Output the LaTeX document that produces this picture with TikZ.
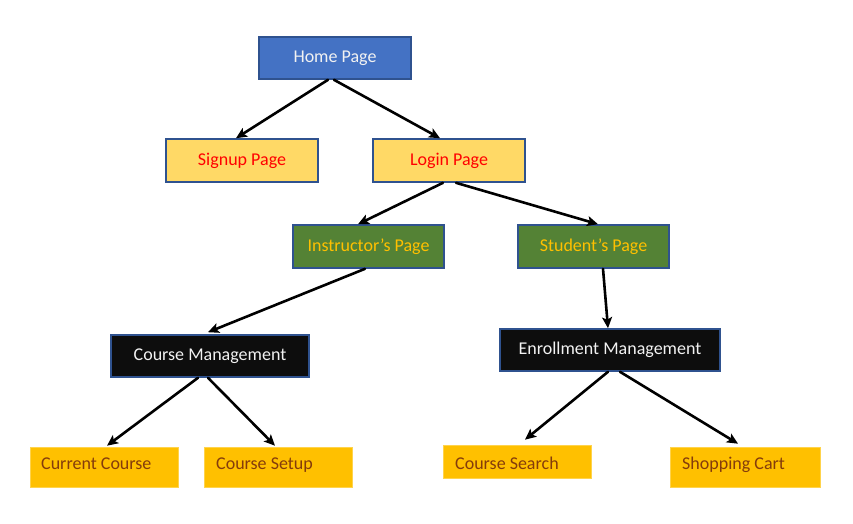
\documentclass[tikz,border=0pt]{standalone}
\usepackage{fontspec}
\setmainfont{Carlito}
\usetikzlibrary{arrows.meta}
\definecolor{bluefill}{HTML}{4472C4}
\definecolor{blueedge}{HTML}{2F528F}
\definecolor{lightyellow}{HTML}{FFD966}
\definecolor{greenfill}{HTML}{548235}
\definecolor{gold}{HTML}{FFC000}
\definecolor{darkfill}{HTML}{0D0D0D}
\definecolor{brown}{HTML}{843C0C}
\definecolor{offwhite}{HTML}{F2F2F2}
\tikzset{
  box/.style={draw=blueedge, line width=1.6pt, minimum height=43pt, inner sep=0pt,
    font=\fontsize{18}{21}\selectfont},
  homebox/.style={box, fill=bluefill, text=offwhite, minimum width=152pt, minimum height=42pt},
  pagebox/.style={box, fill=lightyellow, text=red, minimum width=152pt},
  rolebox/.style={box, fill=greenfill, text=gold, minimum width=151pt},
  mgmtbox/.style={box, fill=darkfill, text=offwhite, minimum height=42pt},
  leafbox/.style={draw=gold!70!white, line width=0.6pt, fill=gold, text=brown,
    minimum height=40pt, inner sep=0pt, font=\fontsize{18}{21}\selectfont},
  leaftext/.style={anchor=base west, text=brown, inner sep=0pt, font=\fontsize{18}{21}\selectfont},
  conn/.style={line width=2.6pt, -{Stealth[length=11pt,width=10pt,inset=2.5pt]}, line cap=round}
}
\begin{document}
\begin{tikzpicture}[x=1pt,y=-1pt]
\useasboundingbox (0,0) rectangle (853,523);
\node[homebox] (home) at (335,58) {Home Page};
\node[pagebox] (signup) at (242,160.5) {Signup Page};
\node[pagebox] (login) at (449,160.5) {Login Page};
\node[rolebox] (instr) at (368.5,246.5) {Instructor’s Page};
\node[rolebox] (stud) at (593.5,246.5) {Student’s Page};
\node[mgmtbox, minimum width=198pt] (cm) at (210,356) {Course Management};
\node[mgmtbox, minimum width=220pt] (em) at (610,350) {Enrollment Management};
\node[leafbox, minimum width=148pt] (cur) at (104,467) {};
\node[leafbox, minimum width=148pt] (setup) at (278,467) {};
\node[leafbox, minimum width=148pt, minimum height=33pt] (search) at (517,461.5) {};
\node[leafbox, minimum width=150pt] (cart) at (745,467) {};
\node[leaftext] (curt) at (41,469.5) {Current Course};
\node[leaftext] (setupt) at (216,469.5) {Course Setup};
\node[leaftext] (searcht) at (455,469.5) {Course Search};
\node[leaftext] (cartt) at (682,469.5) {Shopping Cart};
\draw[conn] ([xshift=-7pt]home.south) -- ([xshift=-6pt]signup.north);
\draw[conn] ([xshift=-1pt]home.south) -- ([xshift=-9pt]login.north);
\draw[conn] ([xshift=-6pt]login.south) -- ([xshift=-10.5pt]instr.north);
\draw[conn] ([xshift=7pt]login.south) -- ([xshift=4.5pt]stud.north);
\draw[conn] ([xshift=-3.5pt]instr.south) -- ([xshift=-2pt,yshift=2pt]cm.north);
\draw[conn] ([xshift=9.5pt]stud.south) -- ([xshift=-2pt]em.north);
\draw[conn] ([xshift=-12pt]cm.south) -- ([xshift=3pt,yshift=1pt]cur.north);
\draw[conn] ([xshift=-2pt]cm.south) -- ([xshift=-3pt,yshift=1pt]setup.north);
\draw[conn] ([xshift=-2pt]em.south) -- ([xshift=8pt,yshift=5pt]search.north);
\draw[conn] ([xshift=10pt]em.south) -- ([xshift=-7pt,yshift=3pt]cart.north);
\end{tikzpicture}
\end{document}
